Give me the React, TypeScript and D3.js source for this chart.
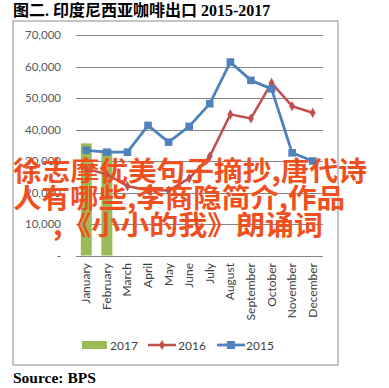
import * as React from "react";
import * as d3 from "d3";

const months = ["January", "February", "March", "April", "May", "June", "July", "August", "September", "October", "November", "December"];
const yTicks = [0, 10000, 20000, 30000, 40000, 50000, 60000, 70000];
const exports2017 = [35600, 33600];
const exports2016 = [27500, 25800, 22000, 20800, 20600, 24500, 31500, 44800, 43500, 54800, 47400, 45300];
const exports2015 = [33400, 32800, 32800, 41300, 36000, 41000, 48200, 61400, 55600, 52900, 32600, 30000];
const watermark = ["徐志摩优美句子摘抄,唐代诗", "人有哪些,李商隐简介,作品", ",《小小的我》朗诵词"];

const GREEN = "#9BBB59";
const RED = "#C0504D";
const BLUE = "#4F81BD";
const LABEL_FONT = "Lato, 'Open Sans', sans-serif";

export default function App() {
    const width = 389;
    const height = 388;

    const x = d3.scaleBand<string>().domain(months).range([76, 323]);
    const y = d3.scaleLinear().domain([0, 70000]).range([255.5, 35]);
    const barW = x.bandwidth() * 0.53;

    const line = d3.line<number>()
        .x((d, i) => (x(months[i]) as number) + x.bandwidth() / 2)
        .y(d => y(d));

    const cx = (i: number) => (x(months[i]) as number) + x.bandwidth() / 2;
    const diamond = d3.symbol().type(d3.symbolDiamond).size(30)() as string;

    return (
        <svg width={width} height={height} style={{ position: "absolute", left: 0, top: 0, background: "#fff" }}>
            <text x={13} y={16} fontFamily="'Liberation Serif', 'Noto Sans CJK SC', serif" fontWeight="bold" fontSize={16} fill="#000">图二. 印度尼西亚咖啡出口 2015-2017</text>
            <rect x={13} y={21} width={325} height={344} fill="#fff" stroke="#8c8c8c" strokeWidth={1} />

            {/* grid + y labels */}
            {yTicks.map(t => (
                <g key={t}>
                    <line x1={76} x2={323} y1={Math.round(y(t)) + 0.5} y2={Math.round(y(t)) + 0.5} stroke="#868686" strokeWidth={1} />
                    <text x={61} y={y(t) + 4} textAnchor="end" fontFamily={LABEL_FONT} fontSize={11.5} fill="#595959">
                        {t === 0 ? "-" : d3.format(",")(t)}
                    </text>
                </g>
            ))}

            {/* 2017 bars */}
            {exports2017.map((v, i) => (
                <rect key={i} x={cx(i) - barW / 2} y={y(v)} width={barW} height={y(0) - y(v)} fill={GREEN} />
            ))}

            {/* 2016 line */}
            <path d={line(exports2016) as string} fill="none" stroke={RED} strokeWidth={2.5} strokeLinejoin="round" />
            {exports2016.map((v, i) => (
                <path key={i} d={diamond} transform={`translate(${cx(i)},${y(v)})`} fill={RED} />
            ))}

            {/* 2015 line */}
            <path d={line(exports2015) as string} fill="none" stroke={BLUE} strokeWidth={2.8} strokeLinejoin="round" />
            {exports2015.map((v, i) => (
                <rect key={i} x={cx(i) - 3.8} y={y(v) - 3.8} width={7.6} height={7.6} fill={BLUE} />
            ))}

            {/* month labels */}
            {months.map((m, i) => (
                <text key={m} transform={`translate(${cx(i) + 4},263) rotate(-90)`} textAnchor="end" fontFamily={LABEL_FONT} fontSize={12} fill="#404040">{m}</text>
            ))}

            {/* legend */}
            <rect x={82} y={341} width={25} height={8} fill={GREEN} />
            <text x={110} y={349.5} fontFamily={LABEL_FONT} fontSize={12} fill="#404040">2017</text>
            <line x1={148} x2={176} y1={345} y2={345} stroke={RED} strokeWidth={2.5} />
            <path d={diamond} transform="translate(162,345)" fill={RED} />
            <text x={178} y={349.5} fontFamily={LABEL_FONT} fontSize={12} fill="#404040">2016</text>
            <line x1={217} x2={245} y1={345} y2={345} stroke={BLUE} strokeWidth={2.8} />
            <rect x={227} y={341} width={8} height={8} fill={BLUE} />
            <text x={246} y={349.5} fontFamily={LABEL_FONT} fontSize={12} fill="#404040">2015</text>

            <text x={13} y={383} fontFamily="'Liberation Serif', serif" fontWeight="bold" fontSize={15.5} fill="#000">Source: BPS</text>

            {/* watermark overlay */}
            <g fontFamily="'Noto Sans CJK SC', sans-serif" fontSize={27} fill="#F0501E" fontWeight={700}>
                <text x={13} y={181} textLength={354} lengthAdjust="spacingAndGlyphs">{watermark[0]}</text>
                <text x={13} y={208} textLength={332} lengthAdjust="spacingAndGlyphs">{watermark[1]}</text>
                <text x={53} y={235} textLength={270} lengthAdjust="spacingAndGlyphs">{watermark[2]}</text>
            </g>
        </svg>
    );
}
